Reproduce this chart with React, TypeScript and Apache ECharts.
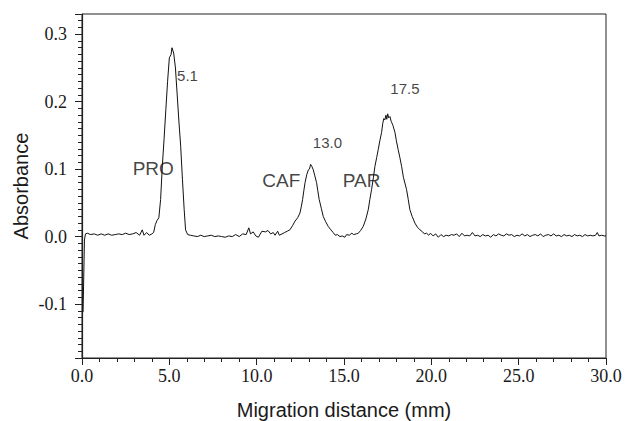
import React, { useEffect, useRef } from "react";
import * as echarts from "echarts";

// Migration distance (mm)
const distance: number[] = [
  0.06, 0.1, 0.14, 0.2, 0.3, 0.5, 0.7, 0.9, 1.1, 1.3, 1.5, 1.7, 1.9, 2.1, 2.3, 2.5, 2.7, 2.9, 3.1, 3.3,
  3.45, 3.55, 3.7, 3.85, 4.0, 4.1,
  4.2, 4.3, 4.4, 4.5, 4.6, 4.7, 4.8, 4.9, 5.0, 5.1, 5.15, 5.25, 5.35, 5.45, 5.55, 5.65, 5.75, 5.85, 5.93,
  6.05, 6.2, 6.4, 6.6, 6.8, 7.0, 7.2, 7.4, 7.6, 7.8, 8.0, 8.2, 8.4, 8.6, 8.8, 9.0, 9.2, 9.4, 9.55, 9.65,
  9.8, 9.95, 10.1, 10.3, 10.5, 10.65, 10.8, 10.95, 11.05, 11.2, 11.3, 11.45, 11.6,
  11.75, 11.9, 12.05, 12.2, 12.35, 12.48, 12.56, 12.63, 12.7, 12.77, 12.87, 12.96, 13.02, 13.09, 13.16,
  13.24, 13.33, 13.43, 13.5, 13.58, 13.7, 13.81, 13.95, 14.1, 14.25, 14.38, 14.5, 14.62, 14.77, 14.9,
  15.05, 15.15, 15.3, 15.45, 15.55, 15.7, 15.82,
  15.95, 16.1, 16.25, 16.39, 16.48, 16.58, 16.68, 16.77, 16.87, 16.96, 17.05, 17.15, 17.22, 17.28, 17.34,
  17.4, 17.45, 17.5, 17.56, 17.63, 17.7, 17.8, 17.92, 18.0, 18.1, 18.2, 18.3, 18.4, 18.5, 18.58, 18.68,
  18.77, 18.9, 19.06, 19.2, 19.35, 19.5, 19.6, 19.73, 19.85, 19.95, 20.1,
  20.25, 20.4, 20.55, 20.7, 20.85, 21.0, 21.15, 21.3, 21.45, 21.6, 21.75, 21.9, 22.05, 22.2, 22.35, 22.5,
  22.65, 22.8, 22.95, 23.1, 23.25, 23.4, 23.55, 23.7, 23.85, 24.0, 24.15, 24.3, 24.45, 24.6, 24.75, 24.9,
  25.05, 25.2, 25.35, 25.5, 25.65, 25.8, 25.95, 26.1, 26.25, 26.4, 26.55, 26.7, 26.85, 27.0, 27.15, 27.3,
  27.45, 27.6, 27.75, 27.9, 28.05, 28.2, 28.35, 28.5, 28.65, 28.8, 28.95, 29.1, 29.25, 29.4, 29.5, 29.6,
  29.75, 29.9, 30.0,
];

// Absorbance
const absorbance: number[] = [
  -0.112, -0.06, -0.005, 0.004, 0.005, 0.003, 0.004, 0.002, 0.004, 0.002, 0.004, 0.002, 0.003, 0.004,
  0.003, 0.005, 0.003, 0.004, 0.006, 0.002, 0.01, 0.002, 0.006, 0.002, 0.004, 0.006,
  0.018, 0.024, 0.028, 0.055, 0.105, 0.145, 0.188, 0.23, 0.265, 0.27, 0.28, 0.272, 0.25, 0.21, 0.17,
  0.134, 0.085, 0.04, 0.01,
  0.003, 0.002, 0.001, 0.0, 0.002, 0.0, 0.001, 0.002, 0.0, 0.001, 0.0, -0.001, 0.001, 0.0, 0.003, 0.0,
  0.004, 0.003, 0.013, 0.004, 0.007, 0.001, -0.001, 0.008, 0.007, 0.009, 0.004, 0.006, 0.002, 0.008,
  0.002, 0.004, 0.006,
  0.008, 0.01, 0.016, 0.023, 0.028, 0.035, 0.045, 0.055, 0.068, 0.08, 0.092, 0.099, 0.1, 0.107, 0.104,
  0.099, 0.09, 0.08, 0.068, 0.055, 0.042, 0.03, 0.022, 0.015, 0.01, 0.006, 0.002, 0.003, 0.0, 0.001,
  -0.001, 0.003, 0.002, 0.005, 0.003, 0.004, 0.005,
  0.009, 0.015, 0.026, 0.04, 0.055, 0.07, 0.087, 0.104, 0.117, 0.129, 0.142, 0.154, 0.168, 0.175, 0.173,
  0.18, 0.174, 0.182, 0.176, 0.178, 0.171, 0.165, 0.154, 0.142, 0.129, 0.117, 0.104, 0.088, 0.078, 0.07,
  0.055, 0.04, 0.03, 0.02, 0.014, 0.01, 0.007, 0.004, 0.005, 0.002, 0.005, 0.001,
  0.004, -0.001, 0.003, 0.0, 0.002, 0.001, 0.003, 0.002, 0.004, 0.0, 0.005, 0.001, 0.002, 0.001, 0.006,
  0.001, 0.002, 0.0, 0.003, 0.001, 0.002, -0.001, 0.003, 0.001, 0.004, 0.002, 0.001, 0.004, 0.002, 0.003,
  0.0, 0.002, 0.001, 0.004, 0.001, 0.003, 0.0, 0.002, 0.003, 0.001, 0.004, 0.0, 0.002, 0.003, 0.001,
  0.004, 0.001, 0.002, 0.0, 0.003, 0.001, 0.002, 0.0, 0.003, 0.001, 0.002, 0.0, 0.003, 0.001, 0.002,
  0.001, 0.002, 0.006, 0.001, 0.002, 0.001, 0.001,
];

// Annotation texts and their anchor positions (data units)
const annotationTexts: string[] = ["5.1", "PRO", "13.0", "CAF", "PAR", "17.5"];
const annotationX: number[] = [6.04, 4.08, 14.05, 11.41, 16.01, 18.49];
const annotationY: number[] = [0.239, 0.1007, 0.14, 0.0833, 0.0833, 0.219];
const annotationIsName: boolean[] = [false, true, false, true, true, false];

// Tick label values
const xTickValues: number[] = [0, 5, 10, 15, 20, 25, 30];
const yTickValues: number[] = [-0.1, 0.0, 0.1, 0.2, 0.3];

const X_MIN = 0;
const X_MAX = 30;
const X_STEP = 5;
const X_MINOR_STEP = 1;
const Y_MIN = -0.18;
const Y_MAX = 0.33;
const Y_MINOR_STEP = 0.01;

export default function App() {
  const ref = useRef<HTMLDivElement>(null);

  useEffect(() => {
    if (!ref.current) return;
    const chart = echarts.init(ref.current, undefined, { renderer: "svg" });
    const axisColor = "#222222";
    const sans = "Liberation Sans";
    const tickFont = "18px 'Liberation Serif'";

    const line = distance.map((d, i) => [d, absorbance[i]]);
    const notes = annotationTexts.map((t, i) => ({
      value: [annotationX[i], annotationY[i]],
      name: t,
      label: { fontSize: annotationIsName[i] ? 19 : 15 },
    }));

    chart.setOption({
      animation: false,
      backgroundColor: "#ffffff",
      grid: {
        left: 82,
        right: 19,
        top: 14,
        bottom: 63,
        outerBoundsMode: "none",
        containLabel: false,
        show: true,
        borderColor: axisColor,
        borderWidth: 1,
        backgroundColor: "transparent",
      },
      xAxis: [
        {
          type: "value",
          min: X_MIN,
          max: X_MAX,
          interval: X_STEP,
          name: "Migration distance (mm)",
          nameLocation: "middle",
          nameGap: 42,
          nameTextStyle: { fontFamily: sans, fontSize: 20, color: "#1a1a1a" },
          axisLine: { show: true, onZero: false, lineStyle: { color: axisColor, width: 1 } },
          axisTick: { show: true, inside: false, length: 7, lineStyle: { color: axisColor } },
          splitLine: { show: false },
          axisLabel: { show: false },
        },
        {
          type: "value",
          min: X_MIN,
          max: X_MAX,
          interval: X_MINOR_STEP,
          position: "bottom",
          axisLine: { show: false, onZero: false },
          axisTick: { show: true, inside: false, length: 4, lineStyle: { color: axisColor } },
          axisLabel: { show: false },
          splitLine: { show: false },
        },
      ],
      yAxis: [
        {
          type: "value",
          min: Y_MIN,
          max: Y_MAX,
          interval: Y_MINOR_STEP,
          position: "left",
          axisLine: { show: true, onZero: false, lineStyle: { color: axisColor, width: 1.2 } },
          axisTick: { show: true, inside: false, length: 4, lineStyle: { color: axisColor } },
          axisLabel: { show: false },
          splitLine: { show: false },
        },
        {
          type: "value",
          min: Y_MIN,
          max: Y_MAX,
          splitNumber: 5,
          position: "left",
          name: "Absorbance",
          nameLocation: "middle",
          nameGap: 51,
          nameTextStyle: { fontFamily: sans, fontSize: 20, color: "#1a1a1a" },
          axisLine: { show: false, onZero: false },
          axisTick: { show: true, inside: false, length: 7, lineStyle: { color: axisColor } },
          splitLine: { show: false },
          axisLabel: { show: false },
        },
      ],
      series: [
        {
          type: "line",
          data: line,
          xAxisIndex: 0,
          yAxisIndex: 0,
          showSymbol: false,
          symbol: "none",
          lineStyle: { color: "#111", width: 1 },
          silent: true,
        },
        {
          type: "scatter",
          data: notes,
          xAxisIndex: 0,
          yAxisIndex: 0,
          symbolSize: 0,
          silent: true,
          label: {
            show: true,
            position: "inside",
            formatter: (p: any) => p.name,
            fontFamily: sans,
            color: "#111",
          },
          z: 5,
        },
      ],
    });

    // Tick labels in a serif face, placed through the chart's own axes
    const yAxisPx = chart.convertToPixel({ xAxisIndex: 0 }, X_MIN) as number;
    const xAxisPx = chart.convertToPixel({ yAxisIndex: 0 }, Y_MIN) as number;
    const xLabels = xTickValues.map((v) => ({
      type: "text",
      silent: true,
      x: chart.convertToPixel({ xAxisIndex: 0 }, v) as number,
      y: xAxisPx + 18,
      style: {
        text: v.toFixed(1),
        font: tickFont,
        fill: "#1a1a1a",
        align: "center",
        verticalAlign: "middle",
      },
    }));
    const yLabels = yTickValues.map((v) => ({
      type: "text",
      silent: true,
      x: yAxisPx - 15,
      y: chart.convertToPixel({ yAxisIndex: 0 }, v) as number,
      style: {
        text: v.toFixed(1),
        font: tickFont,
        fill: "#1a1a1a",
        align: "right",
        verticalAlign: "middle",
      },
    }));
    chart.setOption({ graphic: [...xLabels, ...yLabels] });

    return () => chart.dispose();
  }, []);

  return (
    <div
      ref={ref}
      style={{ position: "fixed", left: 0, top: 0, width: 625, height: 421, background: "#fff" }}
    />
  );
}
